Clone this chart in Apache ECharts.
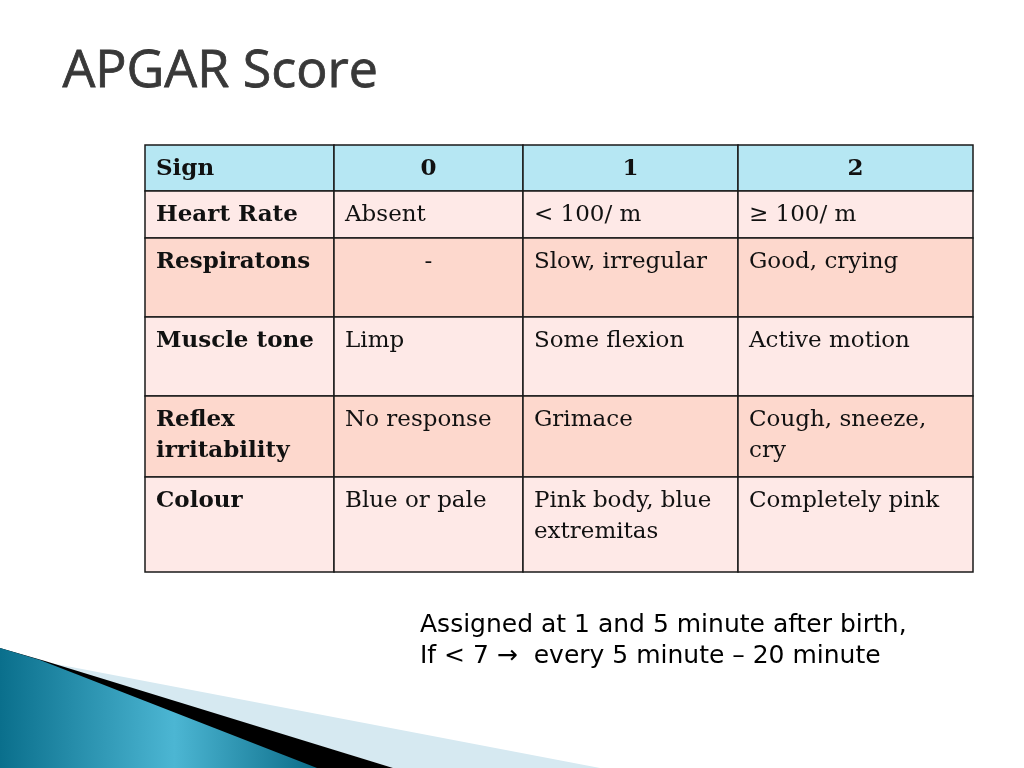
<!DOCTYPE html>
<html>
<head>
<meta charset="utf-8">
<script src="https://cdn.jsdelivr.net/npm/echarts@6/dist/echarts.min.js"></script>
<style>
html,body{margin:0;padding:0;background:#fff;}
#chart{width:1024px;height:768px;}
</style>
</head>
<body>
<div id="chart"></div>
<script>
// ---- data ----
var headers = ['Sign', '0', '1', '2'];
var signs = ['Heart Rate', 'Respiratons', 'Muscle tone', 'Reflex\nirritability', 'Colour'];
var score0 = ['Absent', '-', 'Limp', 'No response', 'Blue or pale'];
var score1 = ['< 100/ m', 'Slow, irregular', 'Some flexion', 'Grimace', 'Pink body, blue\nextremitas'];
var score2 = ['\u2265 100/ m', 'Good, crying', 'Active motion', 'Cough, sneeze,\ncry', 'Completely pink'];
var titleText = 'APGAR Score';
var noteLines = ['Assigned at 1 and 5 minute after birth,', 'If < 7 \u2192  every 5 minute \u2013 20 minute'];

// ---- layout (table units = px inside grid) ----
var colEdges = [0, 189, 378, 593, 828];
var rowEdges = [0, 46, 93, 172, 251, 332, 427];

var cells = [];
headers.forEach(function (h, c) { cells.push([c, 0, h]); });
var cols = [signs, score0, score1, score2];
for (var r = 0; r < signs.length; r++) {
  for (var c = 0; c < 4; c++) cells.push([c, r + 1, cols[c][r]]);
}

var chart = echarts.init(document.getElementById('chart'));

function renderCell(params, api) {
  var c = api.value(0), r = api.value(1);
  var text = cells[params.dataIndex][2];
  var p0 = api.coord([colEdges[c], rowEdges[r]]);
  var p1 = api.coord([colEdges[c + 1], rowEdges[r + 1]]);
  var x = p0[0], y = p0[1], w = p1[0] - p0[0], h = p1[1] - p0[1];
  var fill = r === 0 ? '#b6e7f3' : (r % 2 === 1 ? '#fee9e7' : '#fdd8cd');
  var centered = (r === 0 && c > 0) || text === '-';
  var bold = r === 0 || c === 0;
  return {
    type: 'group',
    children: [
      { type: 'rect', shape: { x: x, y: y, width: w, height: h },
        style: { fill: fill, stroke: '#1a1a1a', lineWidth: 1.5 } },
      { type: 'text', x: centered ? x + w / 2 : x + 11, y: y + 9,
        style: { text: text, fill: '#111',
          fontFamily: 'DejaVu Serif', fontSize: 23, fontWeight: bold ? 'bold' : 'normal',
          lineHeight: 31, align: centered ? 'center' : 'left', verticalAlign: 'top' } }
    ]
  };
}

chart.setOption({
  animation: false,
  backgroundColor: '#ffffff',
  grid: { left: 145, top: 145, width: 828, height: 427 },
  xAxis: { type: 'value', min: 0, max: 828, show: false },
  yAxis: { type: 'value', min: 0, max: 427, inverse: true, show: false },
  series: [{
    type: 'custom',
    renderItem: renderCell,
    data: cells.map(function (d) { return [d[0], d[1]]; }),
    silent: true
  }],
  graphic: [
    { type: 'polygon', shape: { points: [[40, 661], [600, 768], [393, 768]] },
      style: { fill: '#d6e9f1' } },
    { type: 'polygon', shape: { points: [[0, 648], [45, 661], [393, 768], [0, 768]] },
      style: { fill: '#000' } },
    { type: 'polygon', shape: { points: [[0, 648], [40, 660], [317, 768], [0, 768]] },
      style: { fill: new echarts.graphic.LinearGradient(0, 0, 1, 0, [
        { offset: 0, color: '#0a6f8c' }, { offset: 0.55, color: '#4cb6d3' }, { offset: 1, color: '#0b6c88' }]) } },
    { type: 'text', left: 62, top: 46,
      style: { text: titleText, fill: '#383838', fontFamily: 'Open Sans', fontSize: 52,
        stroke: '#383838', lineWidth: 0.8,
        shadowColor: 'rgba(0,0,0,0.35)', shadowBlur: 3, shadowOffsetX: 2, shadowOffsetY: 2 } },
    { type: 'text', left: 420, top: 610,
      style: { text: noteLines.join('\n'), fill: '#000', fontFamily: 'DejaVu Sans', fontSize: 25, lineHeight: 31 } }
  ]
});
</script>
</body>
</html>
